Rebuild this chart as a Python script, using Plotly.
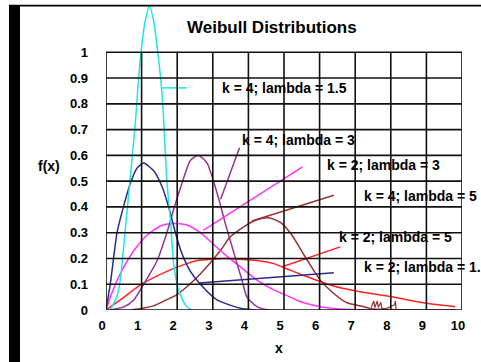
import plotly.graph_objects as go

# ---- data ----
x_ticks = [0, 1, 2, 3, 4, 5, 6, 7, 8, 9, 10]
x_tick_labels = ["0", "1", "2", "3", "4", "5", "6", "7", "8", "9", "10"]
y_ticks = [0, 0.1, 0.2, 0.3, 0.4, 0.5, 0.6, 0.7, 0.8, 0.9, 1]
y_tick_labels = ["0", "0.1", "0.2", "0.3", "0.4", "0.5", "0.6", "0.7", "0.8", "0.9", "1"]

cyan_x = [0.12, 0.3, 0.40, 0.54, 0.68, 0.82, 0.96, 1.10, 1.22, 1.34, 1.48, 1.59, 1.71, 1.81, 1.90, 2.04, 2.23, 2.42, 4.2]
cyan_y = [0, 0.05, 0.116, 0.31, 0.51, 0.72, 0.97, 1.12, 1.18, 1.12, 0.97, 0.81, 0.50, 0.35, 0.18, 0.078, 0.02, 0.0, 0.0]

blue_x = [0, 0.12, 0.31, 0.49, 0.68, 0.87, 1.06, 1.34, 1.57, 1.76, 1.95, 2.13, 2.37, 2.62, 3.12, 3.77, 4.2]
blue_y = [0, 0.10, 0.30, 0.40, 0.49, 0.55, 0.57, 0.54, 0.48, 0.40, 0.30, 0.22, 0.15, 0.105, 0.039, 0.007, 0.0]

purple_x = [0.12, 0.5, 0.78, 1.06, 1.43, 1.71, 1.90, 2.13, 2.37, 2.60, 2.84, 3.02, 3.21, 3.35, 3.49, 3.68, 3.82, 3.96, 4.24, 4.6, 7.8]
purple_y = [0, 0.012, 0.039, 0.10, 0.19, 0.30, 0.39, 0.49, 0.58, 0.60, 0.57, 0.50, 0.41, 0.336, 0.27, 0.18, 0.116, 0.05, 0.013, 0, 0]

magenta_x = [0, 0.12, 0.40, 0.78, 1.15, 1.53, 1.85, 2.27, 2.65, 3.30, 3.77, 4.24, 4.71, 5.18, 5.46, 6.02, 6.67, 7.8]
magenta_y = [0, 0.05, 0.14, 0.23, 0.29, 0.326, 0.336, 0.33, 0.30, 0.22, 0.168, 0.116, 0.078, 0.05, 0.032, 0.013, 0.003, 0]

brown_x = [0.7, 1.06, 1.34, 1.71, 2.0, 2.27, 2.65, 3.21, 3.49, 3.87, 4.24, 4.57, 4.9, 5.2, 5.65, 6.02, 6.39, 6.77, 7.24, 7.45, 9.85]
brown_y = [0, 0.008, 0.016, 0.04, 0.06, 0.09, 0.14, 0.23, 0.284, 0.323, 0.35, 0.358, 0.34, 0.295, 0.194, 0.116, 0.065, 0.028, 0.013, 0.005, 0.0]

scribble_x = [7.45, 7.52, 7.55, 7.62, 7.65, 7.72, 7.75, 7.85, 8.1, 8.13, 8.15]
scribble_y = [0.01, 0.035, 0.01, 0.035, 0.01, 0.03, 0.005, 0.005, 0.02, 0.035, 0.0]

red_x = [0, 0.4, 1.0, 1.71, 2.27, 2.65, 3.02, 3.30, 3.77, 4.24, 4.71, 4.99, 5.65, 6.39, 7.14, 7.99, 8.92, 9.39, 9.81]
red_y = [0, 0.039, 0.10, 0.15, 0.18, 0.194, 0.197, 0.2, 0.197, 0.192, 0.18, 0.165, 0.129, 0.093, 0.071, 0.052, 0.028, 0.019, 0.013]

# leader lines (curve -> label)
lead_cyan_x, lead_cyan_y = [1.55, 2.27], [0.862, 0.862]
lead_purple_x, lead_purple_y = [3.22, 3.75], [0.43, 0.63]
lead_magenta_x, lead_magenta_y = [2.74, 5.52], [0.31, 0.555]
lead_brown_x, lead_brown_y = [4.1, 6.4], [0.345, 0.445]
lead_red_x, lead_red_y = [4.95, 6.58], [0.168, 0.245]
lead_blue_x, lead_blue_y = [2.62, 6.4], [0.105, 0.145]

labels = ["k = 4; lambda = 1.5", "k = 4; lambda = 3", "k = 2; lambda = 3",
          "k = 4; lambda = 5", "k = 2; lambda = 5", "k = 2; lambda = 1."]
label_x = [3.21, 3.77, 6.16, 7.19, 6.49, 7.19]
label_y = [0.862, 0.66, 0.562, 0.442, 0.284, 0.168]

C_CYAN = "#1FE5E5"
C_BLUE = "#2A2A8C"
C_PURPLE = "#963296"
C_MAGENTA = "#FF33FF"
C_BROWN = "#963232"
C_RED = "#FF2222"

FONT = "Liberation Sans, Arial, sans-serif"

fig = go.Figure()

def curve(x, y, color, smooth=True, width=1.5):
    fig.add_trace(go.Scatter(
        x=x, y=y, mode="lines",
        line=dict(color=color, width=width, shape="spline" if smooth else "linear", smoothing=0.6),
        showlegend=False, hoverinfo="skip"))

curve(red_x, red_y, C_RED)
curve(brown_x, brown_y, C_BROWN)
curve(scribble_x, scribble_y, C_BROWN, smooth=False, width=1.2)
curve(magenta_x, magenta_y, C_MAGENTA)
curve(purple_x, purple_y, C_PURPLE)
curve(blue_x, blue_y, C_BLUE)
curve(cyan_x, cyan_y, C_CYAN)

curve(lead_cyan_x, lead_cyan_y, C_CYAN, smooth=False)
curve(lead_purple_x, lead_purple_y, C_PURPLE, smooth=False)
curve(lead_magenta_x, lead_magenta_y, C_MAGENTA, smooth=False)
curve(lead_brown_x, lead_brown_y, C_BROWN, smooth=False)
curve(lead_red_x, lead_red_y, C_RED, smooth=False)
curve(lead_blue_x, lead_blue_y, C_BLUE, smooth=False)

shapes = []
GRID = "#111111"
for xv in x_ticks:
    shapes.append(dict(type="line", xref="x", yref="y", x0=xv, x1=xv, y0=0, y1=1,
                       line=dict(color=GRID, width=1.6), layer="above"))
for yv in y_ticks:
    shapes.append(dict(type="line", xref="x", yref="y", x0=0, x1=10, y0=yv, y1=yv,
                       line=dict(color=GRID, width=1.6), layer="above"))
# frame: thick left bar and top rule
shapes.append(dict(type="rect", xref="paper", yref="paper", x0=-0.2725, x1=-0.2416,
                   y0=-0.171, y1=1.0, fillcolor="#000000", line=dict(width=0)))
shapes.append(dict(type="line", xref="paper", yref="paper", x0=-0.2725, x1=1.06,
                   y0=0.998, y1=0.998, line=dict(color="#000000", width=1.6)))

annotations = []
for t, lx, ly in zip(labels, label_x, label_y):
    annotations.append(dict(x=lx, y=ly, xref="x", yref="y", text=t, showarrow=False,
                            xanchor="left", yanchor="middle",
                            font=dict(family=FONT, size=14, color="#000000", weight="bold")))
annotations.append(dict(x=0.465, y=0.9246, xref="paper", yref="paper", text="Weibull Distributions",
                        showarrow=False, xanchor="center", yanchor="middle",
                        font=dict(family=FONT, size=17, color="#000000", weight="bold")))
annotations.append(dict(x=-0.160, y=0.472, xref="paper", yref="paper", text="f(x)",
                        showarrow=False, xanchor="center", yanchor="middle",
                        font=dict(family=FONT, size=14, color="#000000", weight="bold")))
annotations.append(dict(x=0.486, y=-0.1246, xref="paper", yref="paper", text="x",
                        showarrow=False, xanchor="center", yanchor="middle",
                        font=dict(family=FONT, size=14, color="#000000", weight="bold")))

fig.update_layout(
    width=481, height=362, autosize=False,
    margin=dict(l=106, r=19, t=5, b=52),
    paper_bgcolor="white", plot_bgcolor="white",
    shapes=shapes, annotations=annotations,
    xaxis=dict(range=[0, 10], tickvals=x_ticks, ticktext=x_tick_labels, showgrid=False,
               zeroline=False, showline=False, ticks="", ticklabelshift=-4, ticklabelstandoff=6,
               tickfont=dict(family=FONT, size=13, color="#000000", weight="bold"), fixedrange=True),
    yaxis=dict(range=[0, 305 / 257.7], tickvals=y_ticks, ticktext=y_tick_labels, showgrid=False,
               zeroline=False, showline=False, ticks="", ticklabelstandoff=17,
               tickfont=dict(family=FONT, size=13, color="#000000", weight="bold"), fixedrange=True),
)

fig.write_html("out.html", config={"displayModeBar": False},
               post_script="document.body.style.margin='0';document.body.style.overflow='hidden';")
